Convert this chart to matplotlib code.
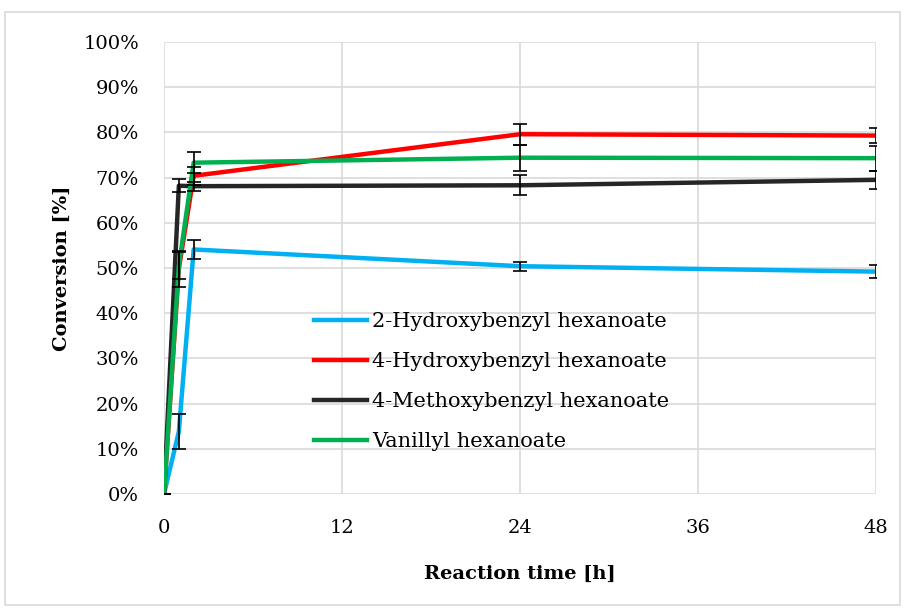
import numpy as np
import matplotlib.pyplot as plt
from matplotlib.patches import Rectangle
from matplotlib.ticker import FuncFormatter

# -------------------------------------------------
# Data
# -------------------------------------------------

time_h = [0, 1, 2, 24, 48]

hydroxy2 = [0, 13.8, 54.1, 50.4, 49.2]
hydroxy2_err = [0, 3.9, 2.1, 1.0, 1.5]

hydroxy4 = [0, 49.8, 70.4, 79.6, 79.3]
hydroxy4_err = [0, 4.0, 2.0, 2.3, 1.6]

methoxy4 = [0, 68.2, 68.1, 68.3, 69.5]
methoxy4_err = [0, 1.4, 1.0, 2.2, 2.0]

vanillyl = [0, 50.5, 73.3, 74.4, 74.3]
vanillyl_err = [0, 3.0, 2.3, 2.9, 2.8]

labels = ["2-Hydroxybenzyl hexanoate", "4-Hydroxybenzyl hexanoate",
          "4-Methoxybenzyl hexanoate", "Vanillyl hexanoate"]
colors = ["#00b0f0", "#ff0000", "#262626", "#00b050"]

# -------------------------------------------------
# Plot
# -------------------------------------------------

plt.rcParams["font.family"] = ["DejaVu Serif"]

fig = plt.figure(figsize=(9.05, 6.12), dpi=100)
ax = fig.add_axes([164 / 905, 1 - 494 / 612, 712 / 905, 452 / 612])

fig.patches.append(Rectangle((5 / 905, 1 - 605 / 612), 895 / 905, 593 / 612,
                             transform=fig.transFigure, fill=False,
                             edgecolor="#d9d9d9", linewidth=1.2))

series = [(hydroxy2, hydroxy2_err), (hydroxy4, hydroxy4_err),
          (methoxy4, methoxy4_err), (vanillyl, vanillyl_err)]

for (vals, errs), lab, col in zip(series, labels, colors):
    ax.plot(time_h, vals, color=col, linewidth=3.2, label=lab, zorder=3)
    ax.errorbar(time_h, vals, yerr=errs, fmt="none", ecolor="black",
                elinewidth=1.2, capsize=5, capthick=1.2, zorder=4)

ax.set_xlim(0, 48)
ax.set_ylim(0, 100)
ax.set_xticks([0, 12, 24, 36, 48])
ax.set_yticks(np.arange(0, 101, 10))
ax.yaxis.set_major_formatter(FuncFormatter(lambda v, p: f"{v:.0f}%"))

ax.grid(True, color="#d9d9d9", linewidth=1.2)
ax.set_axisbelow(True)
for s in ax.spines.values():
    s.set_visible(False)
ax.tick_params(length=0, labelsize=14)
ax.tick_params(axis="y", pad=18)
ax.tick_params(axis="x", pad=18)

ax.set_xlabel("Reaction time [h]", fontsize=14, fontweight="bold", labelpad=20)
ax.set_ylabel("Conversion [%]", fontsize=14, fontweight="bold", labelpad=9)

ax.legend(loc="upper left", bbox_to_anchor=(0.196, 0.425), frameon=False,
          fontsize=15, handlelength=2.55, handletextpad=0.25,
          labelspacing=1.0, borderpad=0)

fig.savefig("out.png", dpi=100)
